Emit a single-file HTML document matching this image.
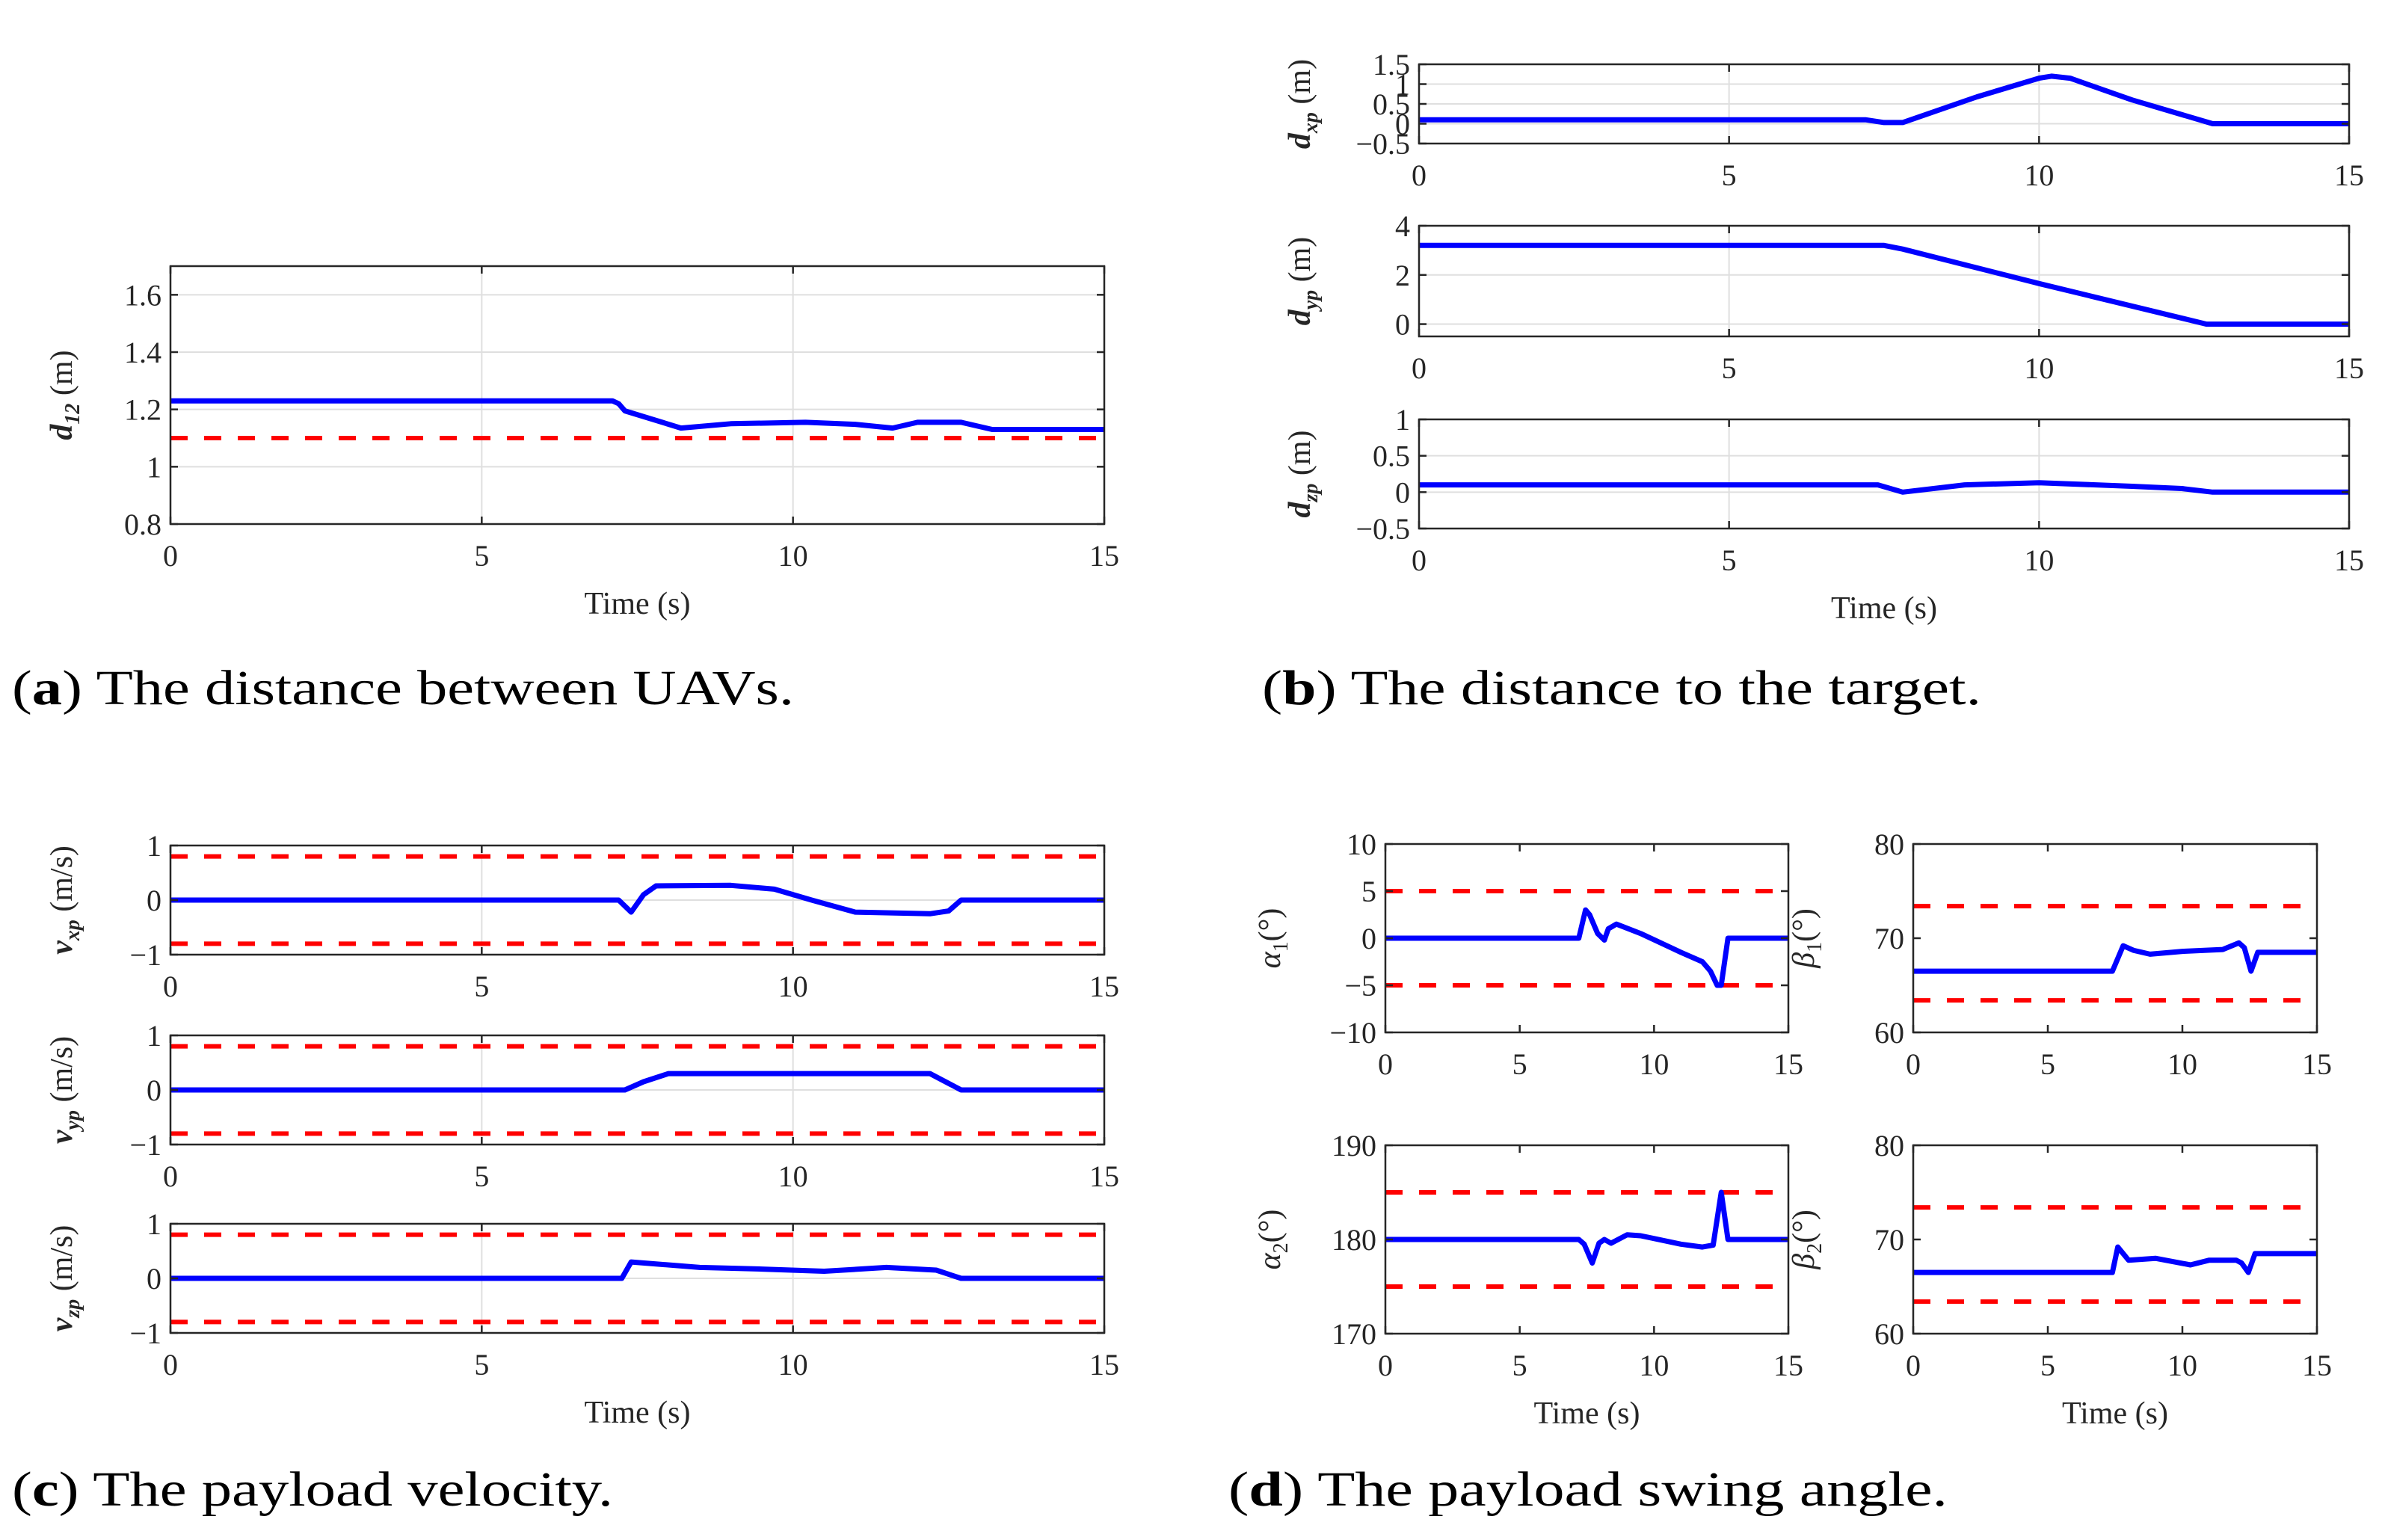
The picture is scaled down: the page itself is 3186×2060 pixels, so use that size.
<!DOCTYPE html>
<html><head><meta charset="utf-8"><style>
html,body{margin:0;padding:0;background:#fff}
svg{display:block}
text{font-family:"Liberation Serif",serif;fill:#262626}
.cap{fill:#000}
</style></head><body>
<svg id="fig" width="3186" height="2060" viewBox="0 0 3186 2060" xmlns="http://www.w3.org/2000/svg"></svg>
<script>
const NS="http://www.w3.org/2000/svg";
const svg=document.getElementById('fig');
const xTicks=[0,5,10,15];
// data arrays
const tA=[0,7.1,7.2,7.3,8.2,9,10.2,11,11.6,12,12.7,13.2,15];
const d12=[1.23,1.23,1.22,1.195,1.135,1.15,1.155,1.148,1.135,1.155,1.155,1.13,1.13];
const d12Limit=[1.1];
const tBx=[0,7.2,7.5,7.8,9,10,10.2,10.5,11.5,12.8,15];
const dxp=[0.1,0.1,0.03,0.03,0.68,1.15,1.2,1.15,0.6,0,0];
const tBy=[0,7.5,7.8,10,12.7,15];
const dyp=[3.2,3.2,3.05,1.65,0,0];
const tBz=[0,7.4,7.8,8.8,10,11.5,12.3,12.8,15];
const dzp=[0.1,0.1,0,0.1,0.13,0.08,0.05,0,0];
const tC1=[0,7.2,7.4,7.6,7.8,9,9.7,10.3,11,12.2,12.5,12.7,15];
const vxp=[0,0,-0.22,0.1,0.26,0.27,0.2,0,-0.22,-0.25,-0.2,0,0];
const tC2=[0,7.3,7.6,8,12.2,12.7,15];
const vyp=[0,0,0.15,0.3,0.3,0,0];
const tC3=[0,7.25,7.4,8.5,9.5,10.5,11.5,12.3,12.7,15];
const vzp=[0,0,0.3,0.2,0.17,0.13,0.2,0.15,0,0];
const vLimit=[0.8,-0.8];
const tD1=[0,7.2,7.45,7.6,7.9,8.15,8.3,8.6,9.5,11,11.8,12.1,12.35,12.5,12.75,15];
const alpha1=[0,0,3,2.5,0.5,-0.2,1,1.5,0.5,-1.5,-2.5,-3.5,-5,-5,0,0];
const alpha1Limit=[5,-5];
const tD2=[0,7.2,7.4,7.7,7.95,8.15,8.4,9,9.5,11,11.8,12.2,12.5,12.75,15];
const alpha2=[180,180,179.5,177.5,179.6,180,179.6,180.5,180.4,179.5,179.2,179.4,185,180,180];
const alpha2Limit=[185,175];
const tD3=[0,7.4,7.8,8.2,8.8,10,11.5,12.1,12.3,12.55,12.8,15];
const beta1=[66.5,66.5,69.2,68.7,68.3,68.6,68.8,69.5,69,66.5,68.5,68.5];
const tD4=[0,7.4,7.6,7.8,8,9,10.3,11,12,12.2,12.45,12.7,15];
const beta2=[66.5,66.5,69.2,68.5,67.8,68,67.3,67.8,67.8,67.5,66.5,68.5,68.5];
const betaLimit=[73.4,63.4];

function el(tag,attrs,parent){const e=document.createElementNS(NS,tag);for(const k in attrs)e.setAttribute(k,attrs[k]);(parent||svg).appendChild(e);return e;}

function panel(o){
  const g=el('g',{});
  
  
  const X=v=>o.x0+(v-0)/(15-0)*(o.x1-o.x0);
  const Y=v=>o.y1-(v-o.ymin)/(o.ymax-o.ymin)*(o.y1-o.y0);
  if(o.grid){
    xTicks.forEach(t=>{const l=el('line',{x1:X(t),x2:X(t),y1:o.y0,y2:o.y1,stroke:'#dfdfdf','stroke-width':2},g);});
    o.yTicks.forEach(t=>{const l=el('line',{x1:o.x0,x2:o.x1,y1:Y(t),y2:Y(t),stroke:'#dfdfdf','stroke-width':2},g);});
  }
  (o.limits||[]).forEach(v=>{const l=el('line',{x1:o.x0,x2:o.x1,y1:Y(v),y2:Y(v),stroke:'#ff0000','stroke-width':6,'stroke-dasharray':'23,22'},g);
    });
  const pts=o.t.map((t,i)=>X(t).toFixed(1)+','+Y(o.v[i]).toFixed(1)).join(' ');
  const p=el('polyline',{points:pts,fill:'none',stroke:'#0000ff','stroke-width':7,'stroke-linejoin':'round'},g);
  
  const b=el('rect',{x:o.x0,y:o.y0,width:o.x1-o.x0,height:o.y1-o.y0,fill:'none',stroke:'#262626','stroke-width':2.5},g);
  
  xTicks.forEach(t=>{
    el('line',{x1:X(t),x2:X(t),y1:o.y1,y2:o.y1-10,stroke:'#262626','stroke-width':2.5},g);
    el('line',{x1:X(t),x2:X(t),y1:o.y0,y2:o.y0+10,stroke:'#262626','stroke-width':2.5},g);
    const tx=el('text',{x:X(t),y:o.y1+56,'text-anchor':'middle','font-size':40},g);tx.textContent=t;
    
  });
  o.yTicks.forEach((t,i)=>{
    el('line',{x1:o.x0,x2:o.x0+10,y1:Y(t),y2:Y(t),stroke:'#262626','stroke-width':2.5},g);
    el('line',{x1:o.x1,x2:o.x1-10,y1:Y(t),y2:Y(t),stroke:'#262626','stroke-width':2.5},g);
    const tx=el('text',{x:o.x0-12,y:Y(t)+14,'text-anchor':'end','font-size':40},g);tx.textContent=o.yLabels[i];
    
  });
  const yl=el('text',{x:0,y:0,'text-anchor':'middle','font-size':42,transform:`translate(${o.ylx},${(o.y0+o.y1)/2}) rotate(-90)`},g);
  yl.innerHTML=o.ylab;
  
  if(o.xlab){const xl=el('text',{x:(o.x0+o.x1)/2,y:o.y1+120,'text-anchor':'middle','font-size':42},g);xl.textContent='Time (s)';
    }
}
const m=(s,sub,unit)=>`<tspan font-style="italic" font-weight="bold">${s}</tspan><tspan font-size="28" dy="10" font-style="italic" font-weight="bold">${sub}</tspan><tspan dy="-10"> ${unit}</tspan>`;
const ang=(s,sub)=>`<tspan font-style="italic">${s}</tspan><tspan font-size="28" dy="10">${sub}</tspan><tspan dy="-10">(°)</tspan>`;

panel({name:'panel-a-d12',x0:228,x1:1477,y0:356,y1:701,ymin:0.8,ymax:1.7,yTicks:[0.8,1,1.2,1.4,1.6],yLabels:['0.8','1','1.2','1.4','1.6'],t:tA,v:d12,limits:d12Limit,grid:true,ylx:96,ylab:m('d','12','(m)'),xlab:true});
panel({name:'panel-b-dxp',x0:1898,x1:3142,y0:86,y1:192,ymin:-0.5,ymax:1.5,yTicks:[-0.5,0,0.5,1,1.5],yLabels:['−0.5','0','0.5','1','1.5'],t:tBx,v:dxp,grid:true,ylx:1752,ylab:m('d','xp','(m)')});
panel({name:'panel-b-dyp',x0:1898,x1:3142,y0:302,y1:450,ymin:-0.5,ymax:4,yTicks:[0,2,4],yLabels:['0','2','4'],t:tBy,v:dyp,grid:true,ylx:1752,ylab:m('d','yp','(m)')});
panel({name:'panel-b-dzp',x0:1898,x1:3142,y0:561,y1:707,ymin:-0.5,ymax:1,yTicks:[-0.5,0,0.5,1],yLabels:['−0.5','0','0.5','1'],t:tBz,v:dzp,grid:true,ylx:1752,ylab:m('d','zp','(m)'),xlab:true});
panel({name:'panel-c-vxp',x0:228,x1:1477,y0:1131,y1:1277,ymin:-1,ymax:1,yTicks:[-1,0,1],yLabels:['−1','0','1'],t:tC1,v:vxp,limits:vLimit,grid:true,ylx:96,ylab:m('v','xp','(m/s)')});
panel({name:'panel-c-vyp',x0:228,x1:1477,y0:1385,y1:1531,ymin:-1,ymax:1,yTicks:[-1,0,1],yLabels:['−1','0','1'],t:tC2,v:vyp,limits:vLimit,grid:true,ylx:96,ylab:m('v','yp','(m/s)')});
panel({name:'panel-c-vzp',x0:228,x1:1477,y0:1637,y1:1783,ymin:-1,ymax:1,yTicks:[-1,0,1],yLabels:['−1','0','1'],t:tC3,v:vzp,limits:vLimit,grid:true,ylx:96,ylab:m('v','zp','(m/s)'),xlab:true});
panel({name:'panel-d-alpha1',x0:1853,x1:2392,y0:1129,y1:1381,ymin:-10,ymax:10,yTicks:[-10,-5,0,5,10],yLabels:['−10','−5','0','5','10'],t:tD1,v:alpha1,limits:alpha1Limit,ylx:1712,ylab:ang('α','1')});
panel({name:'panel-d-beta1',x0:2559,x1:3099,y0:1129,y1:1381,ymin:60,ymax:80,yTicks:[60,70,80],yLabels:['60','70','80'],t:tD3,v:beta1,limits:betaLimit,ylx:2426,ylab:ang('β','1')});
panel({name:'panel-d-alpha2',x0:1853,x1:2392,y0:1532,y1:1784,ymin:170,ymax:190,yTicks:[170,180,190],yLabels:['170','180','190'],t:tD2,v:alpha2,limits:alpha2Limit,ylx:1712,ylab:ang('α','2'),xlab:true});
panel({name:'panel-d-beta2',x0:2559,x1:3099,y0:1532,y1:1784,ymin:60,ymax:80,yTicks:[60,70,80],yLabels:['60','70','80'],t:tD4,v:beta2,limits:betaLimit,ylx:2426,ylab:ang('β','2'),xlab:true});

function cap(x,y,lbl,txt,w,name){
  const t=el('text',{x:x,y:y,'font-size':66,class:'cap',textLength:w,lengthAdjust:'spacingAndGlyphs'});
  t.innerHTML=`(<tspan font-weight="bold">${lbl}</tspan>) ${txt}`;
  
}
cap(16,942,'a','The distance between UAVs.',1046,'caption-a');
cap(1688,942,'b','The distance to the target.',962,'caption-b');
cap(16,2014,'c','The payload velocity.',804,'caption-c');
cap(1643,2014,'d','The payload swing angle.',962,'caption-d');
</script>
</body></html>
